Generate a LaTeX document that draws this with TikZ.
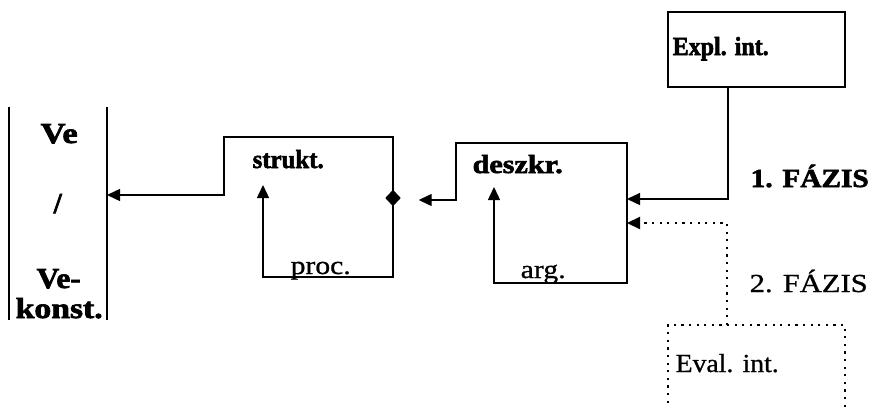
\documentclass[tikz,border=0pt]{standalone}
\usepackage{fontspec}
\setmainfont{Liberation Serif}[FakeBold=0.8,BoldFeatures={FakeBold=2.2}]
\usetikzlibrary{arrows.meta,shapes.geometric}
\begin{document}
\begin{tikzpicture}[x=1pt,y=-1pt,
  line width=1.4pt,
  >={Triangle[length=13pt,width=12pt]},
  frame/.style={rectangle,inner sep=0pt,outer sep=0pt,anchor=north west},
  lbl/.style={anchor=base west,inner sep=0pt,font=\fontsize{26}{30}\selectfont\bfseries},
  lblr/.style={anchor=base west,inner sep=0pt,font=\fontsize{26}{30}\selectfont},
  lblv/.style={anchor=base west,inner sep=0pt,font=\fontsize{29}{32}\selectfont\bfseries},
  dots/.style={line width=2.2pt,dash pattern=on 2.2pt off 5.4pt}
]
\clip (0,0) rectangle (870,407);

% frames
\node[frame,minimum width=98pt,minimum height=213pt] (ve) at (9,107) {};
\node[frame,minimum width=169pt,minimum height=140pt] (s) at (224,137) {};
\node[frame,minimum width=171pt,minimum height=140pt] (d) at (456,143) {};
\node[frame,draw,minimum width=177pt,minimum height=75pt] (e) at (668,12) {};
\node[frame,draw,dots,minimum width=177pt,minimum height=110pt] (v) at (668,325) {};

% the two rules of the Ve / Ve-konst. column
\draw (ve.north west) -- (ve.south west);
\draw (ve.north east) -- (ve.south east);

% labels
\node[lblv] (ve1) at (40,143) {\resizebox{37pt}{\height}{Ve}};
\node[lblv] (slash) at (53,213) {/};
\node[lblv] (ve2) at (36,288) {\resizebox{44pt}{\height}{Ve-}};
\node[lblv] (ve3) at (15,318) {\resizebox{87pt}{\height}{konst.}};
\node[lbl]  (st) at (252,168) {\resizebox{71pt}{\height}{strukt.}};
\node[lblr] (pr) at (290,274) {\resizebox{60pt}{\height}{proc.}};
\node[lbl]  (de) at (472,173) {\resizebox{90pt}{\height}{deszkr.}};
\node[lblr] (ar) at (520,278) {\resizebox{45pt}{\height}{arg.}};
\node[lbl]  (ex) at (672,55) {\resizebox{96pt}{\height}{Expl. int.}};
\node[lbl]  (f1) at (750,187) {\resizebox{118pt}{\height}{1. FÁZIS}};
\node[lblr] (f2) at (749,292) {\resizebox{118pt}{\height}{2. FÁZIS}};
\node[lblr] (ev) at (675,372) {\resizebox{103pt}{\height}{Eval. int.}};

% diamond on the right side of the strukt. frame
\node[diamond,fill=black,inner sep=0pt,minimum width=16pt,minimum height=17pt] (dm) at (393,198) {};

% strukt. frame: proc. loop, outline and exit to the Ve column
\coordinate (sp) at (263,185);
\coordinate (so) at (224,195);
\draw[<->] (sp) -- (sp |- s.south) -- (s.south east) -- (s.north east)
  -- (s.north west) -- (so) -- (so -| ve.east);

% deszkr. frame: arg. loop, outline and exit towards the diamond
\coordinate (dp) at (494,187);
\coordinate (do) at (456,200);
\draw[<->,shorten >=17pt] (dp) -- (dp |- d.south) -- (d.south east) -- (d.north east)
  -- (d.north west) -- (do) -- (do -| dm.east);

% phase inputs
\draw[->] ([xshift=60pt]e.south west) |- ([yshift=14pt]d.east);
\draw[->,dots] ([xshift=59pt]v.north west) |- ([yshift=-10pt]d.east);
\end{tikzpicture}
\end{document}
